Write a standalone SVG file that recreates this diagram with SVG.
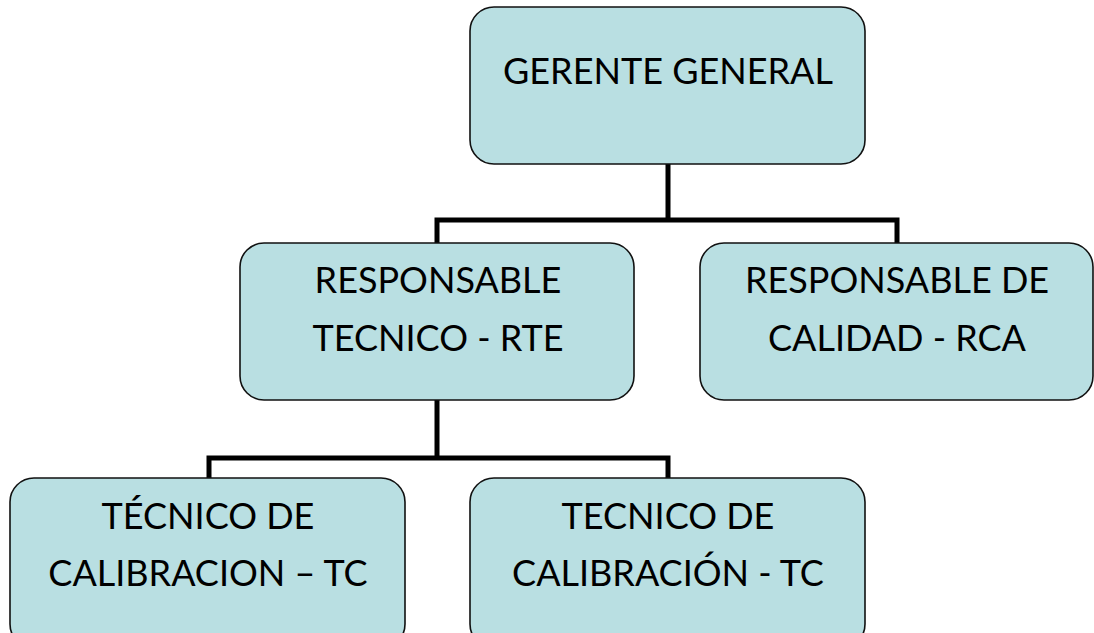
<svg xmlns="http://www.w3.org/2000/svg" width="1094" height="633" viewBox="0 0 1094 633">
<style>
.box{fill:#b9dfe2;stroke:#111;stroke-width:1.6}
.t{font-family:Lato,"Open Sans","Liberation Sans",sans-serif;font-size:36px;fill:#000;text-anchor:middle}
.c{fill:none;stroke:#000;stroke-width:5;stroke-linecap:square}
</style>
<rect width="1094" height="633" fill="#fff"/>
<g id="connectors">
<path class="c" d="M668 165V220M437 220H897M437 220V242M897 220V242"/>
<path class="c" d="M437 400V458M209 458H668M209 458V477M668 458V477"/>
</g>
<g id="gerente">
<rect class="box" x="470" y="7" width="395" height="157" rx="24"/>
<text class="t" x="668" y="84">GERENTE GENERAL</text>
</g>
<g id="rte">
<rect class="box" x="240" y="243" width="394" height="157" rx="24"/>
<text class="t" x="438" y="293">RESPONSABLE</text>
<text class="t" x="438" y="351">TECNICO - RTE</text>
</g>
<g id="rca">
<rect class="box" x="700" y="243" width="393" height="157" rx="24"/>
<text class="t" x="897" y="293">RESPONSABLE DE</text>
<text class="t" x="897" y="351">CALIDAD - RCA</text>
</g>
<g id="tc1">
<rect class="box" x="10" y="478" width="395" height="170" rx="24"/>
<text class="t" x="208" y="529">TÉCNICO DE</text>
<text class="t" x="208" y="586">CALIBRACION – TC</text>
</g>
<g id="tc2">
<rect class="box" x="470" y="478" width="395" height="170" rx="24"/>
<text class="t" x="668" y="529">TECNICO DE</text>
<text class="t" x="668" y="586">CALIBRACIÓN - TC</text>
</g>
</svg>
